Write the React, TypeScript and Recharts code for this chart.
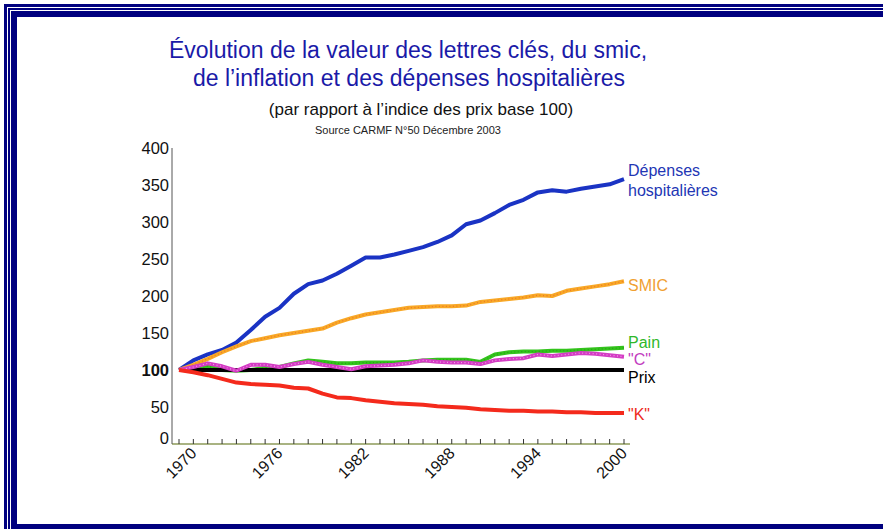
import React from 'react';
import { LineChart, Line, XAxis, YAxis } from 'recharts';

const YEARS = [1970, 1971, 1972, 1973, 1974, 1975, 1976, 1977, 1978, 1979, 1980, 1981, 1982, 1983, 1984, 1985, 1986, 1987, 1988, 1989, 1990, 1991, 1992, 1993, 1994, 1995, 1996, 1997, 1998, 1999, 2000, 2001];
const LABEL_YEARS = [1970, 1976, 1982, 1988, 1994, 2000];
const Y_TICKS = [0, 50, 100, 150, 200, 250, 300, 350, 400];

const DEPENSES = [100, 113, 121, 127, 137, 154, 172, 184, 203, 216, 221, 230, 241, 252, 252, 256, 261, 266, 273, 282, 297, 302, 312, 323, 330, 340, 343, 341, 345, 348, 351, 358];
const SMIC = [100, 107, 115, 124, 132, 139, 143, 147, 150, 153, 156, 164, 170, 175, 178, 181, 184, 185, 186, 186, 187, 192, 194, 196, 198, 201, 200, 207, 210, 213, 216, 220];
const PAIN = [100, 101, 105, 100, 99, 100, 103, 104, 109, 113, 111, 109, 109, 110, 110, 110, 111, 113, 114, 114, 114, 111, 121, 124, 125, 125, 126, 126, 127, 128, 129, 130];
const C_VALUES = [100, 104, 109, 105, 99, 107, 107, 104, 108, 111, 107, 104, 101, 105, 106, 107, 109, 113, 111, 110, 110, 108, 113, 115, 116, 121, 119, 121, 123, 122, 120, 118];
const PRIX = [100, 100, 100, 100, 100, 100, 100, 100, 100, 100, 100, 100, 100, 100, 100, 100, 100, 100, 100, 100, 100, 100, 100, 100, 100, 100, 100, 100, 100, 100, 100, 100];
const K_VALUES = [100, 97, 93, 88, 83, 81, 80, 79, 76, 75, 68, 63, 62, 59, 57, 55, 54, 53, 51, 50, 49, 47, 46, 45, 45, 44, 44, 43, 43, 42, 42, 42];

const TITLE_1 = 'Évolution de la valeur des lettres clés, du smic,';
const TITLE_2 = 'de l’inflation et des dépenses hospitalières';
const SUBTITLE = '(par rapport à l’indice des prix base 100)';
const SOURCE = 'Source CARMF N°50 Décembre 2003';

const data = YEARS.map((year, i) => ({
  year,
  depenses: DEPENSES[i],
  smic: SMIC[i],
  pain: PAIN[i],
  c: C_VALUES[i],
  prix: PRIX[i],
  k: K_VALUES[i],
}));

const FONT = '"Liberation Sans", Arial, Helvetica, sans-serif';
const NAVY = '#00007f';
const LAST = YEARS.length - 1;

const endLabel = (lines: string[], color: string, dy: number) => (props: any) => {
  const { cx, cy, index } = props;
  if (index !== LAST) return <g key={`d-${index}`} />;
  return (
    <text key={`lbl-${index}`} x={cx + 4} y={cy + dy} fill={color} fontSize={16} fontFamily={FONT} dominantBaseline="central">
      {lines.map((l, i) => (
        <tspan key={i} x={cx + 4} dy={i === 0 ? 0 : 20}>{l}</tspan>
      ))}
    </text>
  );
};

const YTick = (props: any) => {
  const { x, y, payload } = props;
  const v = payload.value;
  return (
    <text x={x} y={y + (v === 0 ? -6 : 0)} textAnchor="end" dominantBaseline="central" fontSize={16.5}
      fontWeight={v === 100 ? 'bold' : 'normal'} fill="#111" fontFamily={FONT}>
      {v}
    </text>
  );
};

const XTick = (props: any) => {
  const { x, y, payload } = props;
  const yr = payload.value;
  const lx = x + 2;
  const ly = y + 19;
  return (
    <g>
      <line x1={x} y1={y} x2={x} y2={y - 5} stroke="#333" strokeWidth={1} />
      {LABEL_YEARS.includes(yr) && (
        <text x={lx} y={ly} transform={`rotate(-45 ${lx} ${ly})`} textAnchor="middle" dominantBaseline="central"
          fontSize={16} fill="#111" fontFamily={FONT}>
          {yr}
        </text>
      )}
    </g>
  );
};

const Frame = () => (
  <>
    <div style={{ position: 'absolute', left: 4, top: 4, width: 960, height: 533, background: NAVY }} />
    <div style={{ position: 'absolute', left: 7, top: 7, width: 960, height: 527, background: '#fff' }} />
    <div style={{ position: 'absolute', left: 8, top: 8, width: 960, height: 525, background: NAVY }} />
    <div style={{ position: 'absolute', left: 10, top: 10, width: 960, height: 521, background: '#fff' }} />
    <div style={{ position: 'absolute', left: 11, top: 11, width: 960, height: 519, background: NAVY }} />
    <div style={{ position: 'absolute', left: 17, top: 17, width: 960, height: 507, background: '#fff' }} />
  </>
);

export default function App() {
  return (
    <div style={{ position: 'absolute', left: 0, top: 0, width: 883, height: 529, overflow: 'hidden', background: '#fff' }}>
      <Frame />
      <div style={{ position: 'absolute', left: 0, top: 0 }}>
        <LineChart width={883} height={529} data={data} margin={{ top: 148, right: 253, bottom: 45, left: 112 }}>
          <XAxis dataKey="year" type="number" domain={[1970, 2001]} ticks={YEARS} interval={0}
            padding={{ left: 7, right: 6 }} height={40} tickSize={0} tickMargin={0}
            axisLine={{ stroke: '#8c9a58', strokeWidth: 1.5 }} tickLine={false} tick={<XTick />} />
          <YAxis type="number" domain={[0, 400]} ticks={Y_TICKS} interval={0} width={60} tickSize={0} tickMargin={3}
            axisLine={{ stroke: '#555', strokeWidth: 1 }} tickLine={false} tick={<YTick />} />
          <Line dataKey="depenses" type="linear" stroke="#1a33c4" strokeWidth={4} isAnimationActive={false}
            dot={endLabel(['Dépenses', 'hospitalières'], '#2236b4', -9)} activeDot={false} strokeLinejoin="round" />
          <Line dataKey="smic" type="linear" stroke="#f8a826" strokeWidth={4} isAnimationActive={false}
            dot={endLabel(['SMIC'], '#f0a032', 4)} activeDot={false} strokeLinejoin="round" />
          <Line dataKey="smic" type="linear" stroke="#e8582a" strokeWidth={1.3} strokeDasharray="1 2.5" strokeOpacity={0.6}
            isAnimationActive={false} dot={false} activeDot={false} />
          <Line dataKey="pain" type="linear" stroke="#33c41c" strokeWidth={4} isAnimationActive={false}
            dot={endLabel(['Pain'], '#2fb82a', -6)} activeDot={false} strokeLinejoin="round" />
          <Line dataKey="pain" type="linear" stroke="#1e7a14" strokeWidth={1.2} strokeDasharray="1 2.5" strokeOpacity={0.5}
            isAnimationActive={false} dot={false} activeDot={false} />
          <Line dataKey="prix" type="linear" stroke="#000" strokeWidth={4} isAnimationActive={false}
            dot={endLabel(['Prix'], '#000', 7)} activeDot={false} />
          <Line dataKey="c" type="linear" stroke="#d43cc4" strokeWidth={4} isAnimationActive={false}
            dot={endLabel(['"C"'], '#c23cc0', 2)} activeDot={false} strokeLinejoin="round" />
          <Line dataKey="c" type="linear" stroke="#f6b0ee" strokeWidth={1.2} strokeDasharray="1 2.5" strokeOpacity={0.8}
            isAnimationActive={false} dot={false} activeDot={false} />
          <Line dataKey="k" type="linear" stroke="#f42a1c" strokeWidth={4} isAnimationActive={false}
            dot={endLabel(['"K"'], '#ee2a20', 1)} activeDot={false} strokeLinejoin="round" />
        </LineChart>
      </div>
      <svg width={883} height={529} style={{ position: 'absolute', left: 0, top: 0, pointerEvents: 'none' }}>
        <text x={408} y={58} textAnchor="middle" fontSize={23} fill="#1a1aa8" fontFamily={FONT}>{TITLE_1}</text>
        <text x={409} y={86} textAnchor="middle" fontSize={23} fill="#1a1aa8" fontFamily={FONT}>{TITLE_2}</text>
        <text x={421} y={115} textAnchor="middle" fontSize={17} fill="#111" fontFamily={FONT}>{SUBTITLE}</text>
        <text x={408} y={134} textAnchor="middle" fontSize={11} fill="#222" fontFamily={FONT}>{SOURCE}</text>
      </svg>
    </div>
  );
}
